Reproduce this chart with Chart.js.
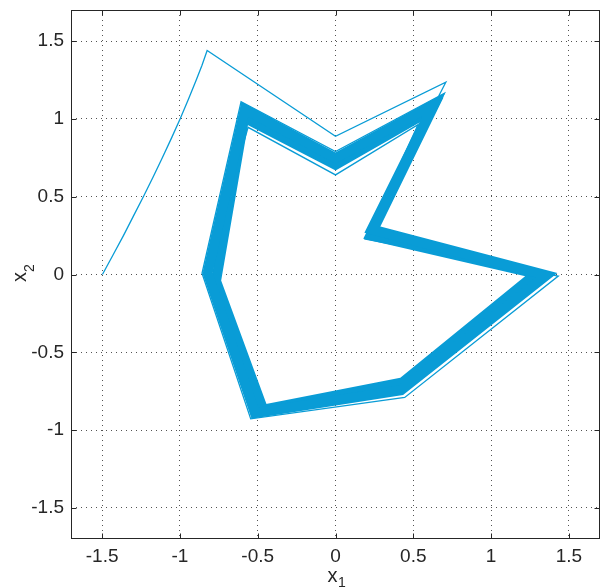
<!DOCTYPE html>
<html><head><meta charset="utf-8">
<script src="https://cdn.jsdelivr.net/npm/chart.js@4.4.0/dist/chart.umd.min.js"></script>
<style>html,body{margin:0;padding:0;background:#fff}#wrap{width:603px;height:588px;position:relative}</style>
</head><body><div id="wrap"><canvas id="c" width="603" height="588"></canvas></div>
<script>
// axis ticks
const TICKS = [-1.5, -1, -0.5, 0, 0.5, 1, 1.5];
const TICK_LABELS = ['-1.5', '-1', '-0.5', '0', '0.5', '1', '1.5'];
const AXIS_MIN = -1.7, AXIS_MAX = 1.7;

// transient trajectory starting at (-1.5, 0) (x1, x2)
const transientX = [-1.498, -1.43, -1.363, -1.299, -1.235, -1.173, -1.113, -1.055, -0.999, -0.946, -0.895, -0.858, -0.825, 0.0, 0.709, 0.19, 1.432, 0.445, -0.545, -0.858, -0.607, 0.0, 0.70, 0.23, 1.40, 0.43, -0.52, -0.83, -0.562, 0.0, 0.53, 0.20, 1.36, 0.42];
const transientY = [0.0, 0.125, 0.25, 0.375, 0.5, 0.625, 0.75, 0.875, 1.0, 1.125, 1.25, 1.345, 1.44, 0.888, 1.236, 0.228, -0.01, -0.79, -0.928, 0.008, 1.11, 0.79, 1.165, 0.25, 0.0, -0.76, -0.915, 0.0, 0.946, 0.64, 0.963, 0.24, 0.0, -0.72];

// limit cycle, outer-side orbit (L, TL, V, TR, IC, RT, BR, BL, L, TL)
const cycleOuterX = [-0.822, -0.583, 0.0, 0.632, 0.232, 1.356, 0.421, -0.518, -0.822, -0.583];
const cycleOuterY = [0.010, 1.062, 0.748, 1.092, 0.290, -0.005, -0.744, -0.891, 0.010, 1.062];
// limit cycle, inner-side orbit
const cycleInnerX = [-0.768, -0.587, 0.0, 0.62, 0.225, 1.29, 0.431, -0.465, -0.768, -0.587];
const cycleInnerY = [-0.042, 1.008, 0.705, 1.06, 0.252, 0.005, -0.693, -0.868, -0.042, 1.008];

const BLUE = 'rgb(9,156,214)';
const TXT = '#262626';
const FONT = '"Liberation Sans", Arial, Helvetica, sans-serif';

const pts = (xs, ys) => xs.map((x, i) => ({x: x, y: ys[i]}));

const frame = {
  id: 'frame',
  afterDraw(chart) {
    const {ctx, chartArea: a, scales} = chart;
    const L = Math.round(a.left) + 0.5, R = Math.round(a.right) - 0.5;
    const T = Math.round(a.top) + 0.5, B = Math.round(a.bottom) - 0.5;
    ctx.save();
    ctx.strokeStyle = TXT; ctx.lineWidth = 1;
    ctx.strokeRect(L, T, R - L, B - T);
    ctx.beginPath();
    TICKS.forEach(v => {
      const px = Math.round(scales.x.getPixelForValue(v)) + 0.5;
      ctx.moveTo(px, B); ctx.lineTo(px, B - 5);
      ctx.moveTo(px, T); ctx.lineTo(px, T + 5);
      const py = Math.round(scales.y.getPixelForValue(v)) + 0.5;
      ctx.moveTo(L, py); ctx.lineTo(L + 5, py);
      ctx.moveTo(R, py); ctx.lineTo(R - 5, py);
    });
    ctx.stroke();
    // axis titles
    ctx.fillStyle = TXT;
    ctx.textAlign = 'left';
    ctx.textBaseline = 'alphabetic';
    ctx.font = '20px ' + FONT;
    ctx.fillText('x', 327.5, 582);
    ctx.font = '14px ' + FONT;
    ctx.fillText('1', 338, 587);
    ctx.translate(26, 282);
    ctx.rotate(-Math.PI / 2);
    ctx.font = '20px ' + FONT;
    ctx.fillText('x', 0, 0);
    ctx.font = '14px ' + FONT;
    ctx.fillText('2', 10, 8);
    ctx.restore();
  }
};

const axis = (isX) => ({
  type: 'linear',
  min: AXIS_MIN, max: AXIS_MAX,
  afterBuildTicks: s => { s.ticks = TICKS.map(v => ({value: v})); },
  afterFit: s => {
    if (isX) { s.height = 49; s.paddingLeft = 0; s.paddingRight = 0; }
    else { s.width = 71; s.paddingTop = 0; s.paddingBottom = 0; }
  },
  ticks: {
    autoSkip: false, maxRotation: 0, minRotation: 0,
    padding: isX ? 6 : 7,
    color: TXT,
    font: {family: FONT, size: 19},
    callback: (v) => { const i = TICKS.indexOf(v); return i >= 0 ? TICK_LABELS[i] : ''; }
  },
  grid: {color: 'rgba(40,40,40,0.8)', lineWidth: 1, drawTicks: false},
  border: {display: false, dash: [1, 4]}
});

new Chart(document.getElementById('c'), {
  type: 'scatter',
  data: {
    datasets: [
      {data: pts(cycleOuterX, cycleOuterY), showLine: true, borderColor: BLUE, borderWidth: 10, borderJoinStyle: 'miter', pointRadius: 0},
      {data: pts(cycleInnerX, cycleInnerY), showLine: true, borderColor: BLUE, borderWidth: 10, borderJoinStyle: 'miter', pointRadius: 0},
      {data: pts(transientX, transientY), showLine: true, borderColor: BLUE, borderWidth: 1.3, borderJoinStyle: 'miter', pointRadius: 0}
    ]
  },
  options: {
    responsive: false, animation: false, devicePixelRatio: 1,
    layout: {padding: {left: 0, right: 3, top: 10, bottom: 0}},
    plugins: {legend: {display: false}, tooltip: {enabled: false}},
    elements: {line: {tension: 0}},
    scales: {x: axis(true), y: axis(false)}
  },
  plugins: [frame]
});
</script></body></html>
